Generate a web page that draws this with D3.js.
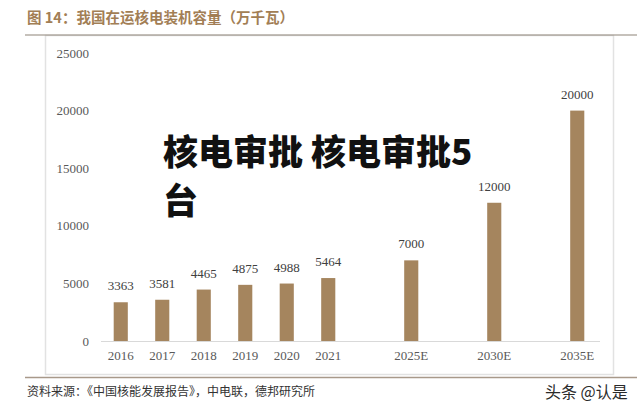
<!DOCTYPE html>
<html>
<head>
<meta charset="utf-8">
<script src="https://cdn.jsdelivr.net/npm/d3@7/dist/d3.min.js"></script>
<style>
  html, body { margin: 0; padding: 0; background: #fff; }
  svg { display: block; }
</style>
</head>
<body>
<svg id="chart" width="640" height="410"></svg>
<script>
// ---- data ----
const categories = ["2016", "2017", "2018", "2019", "2020", "2021", "2025E", "2030E", "2035E"];
const values = [3363, 3581, 4465, 4875, 4988, 5464, 7000, 12000, 20000];
// slots on the category axis (blank slots separate the forecast years)
const slots = ["2016", "2017", "2018", "2019", "2020", "2021", "_g1", "2025E", "_g2", "2030E", "_g3", "2035E"];
const yTicks = [0, 5000, 10000, 15000, 20000, 25000];
const titleText = "图 14：我国在运核电装机容量（万千瓦）";
const sourceText = "资料来源：《中国核能发展报告》，中电联，德邦研究所";
const overlayLines = ["核电审批 核电审批5", "台"];
const watermark = "头条 @认是";

const svg = d3.select("#chart");
const serif = "'Liberation Serif', 'DejaVu Serif', serif";
const cjk = "'Noto Sans CJK SC', sans-serif";

// frame
svg.append("rect").attr("x", 45.5).attr("y", 35.5).attr("width", 568).attr("height", 339)
  .attr("fill", "none").attr("stroke", "#e2e2e2").attr("stroke-width", 1.5);
// title
svg.append("text").attr("x", 27).attr("y", 23).text(titleText)
  .attr("font-family", cjk).attr("font-weight", 700).attr("font-size", 14.5)
  .attr("fill", "#a27e55");
svg.append("line").attr("x1", 25).attr("x2", 637).attr("y1", 35).attr("y2", 35)
  .attr("stroke", "#8e8478").attr("stroke-width", 1.2);
// footer line & text
svg.append("line").attr("x1", 25).attr("x2", 637).attr("y1", 377.5).attr("y2", 377.5)
  .attr("stroke", "#a8998a").attr("stroke-width", 1.5);
svg.append("text").attr("x", 27).attr("y", 396).text(sourceText)
  .attr("font-family", cjk).attr("font-size", 12).attr("fill", "#333");

// scales
const x = d3.scaleBand().domain(slots).range([100, 598]).paddingInner(0.66).paddingOuter(0.33);
const y = d3.scaleLinear().domain([0, 25000]).range([341, 53]);

// y axis (labels only)
const yAxis = d3.axisLeft(y).tickValues(yTicks).tickSize(0).tickPadding(0).tickFormat(d3.format("d"));
const gy = svg.append("g").attr("transform", "translate(89,0)").call(yAxis);
gy.select(".domain").remove();
gy.selectAll("text").attr("font-family", serif).attr("font-size", 13).attr("fill", "#595959");

// x axis
const xAxis = d3.axisBottom(x).tickValues(categories).tickSize(0).tickPadding(10);
const gx = svg.append("g").attr("transform", "translate(0,341)").call(xAxis);
gx.select(".domain").remove();
gx.selectAll("text").attr("font-family", serif).attr("font-size", 13).attr("fill", "#595959");
svg.append("line").attr("x1", 101).attr("x2", 600).attr("y1", 341.5).attr("y2", 341.5)
  .attr("stroke", "#d9d9d9").attr("stroke-width", 1);

const data = categories.map((c, i) => ({ c, v: values[i] }));
// bars
svg.append("g").selectAll("rect").data(data).join("rect")
  .attr("x", d => x(d.c)).attr("width", x.bandwidth())
  .attr("y", d => y(d.v)).attr("height", d => y(0) - y(d.v))
  .attr("fill", "#a5855e");
// value labels
svg.append("g").selectAll("text").data(data).join("text")
  .attr("x", d => x(d.c) + x.bandwidth() / 2).attr("y", d => y(d.v) - 12)
  .attr("text-anchor", "middle").text(d => d.v)
  .attr("font-family", serif).attr("font-size", 13).attr("fill", "#404040");

// overlay text
svg.append("g").selectAll("text").data(overlayLines).join("text")
  .attr("x", 163).attr("y", (d, i) => 165 + i * 49).text(d => d)
  .attr("font-family", cjk).attr("font-weight", 900).attr("font-size", 35)
  .attr("fill", "#111");

// watermark
svg.append("text").attr("x", 545).attr("y", 398).text(watermark)
  .attr("font-family", cjk).attr("font-size", 16).attr("fill", "#2a2a2a")
  .attr("stroke", "#fff").attr("stroke-width", 2).attr("paint-order", "stroke");
</script>
</body>
</html>
